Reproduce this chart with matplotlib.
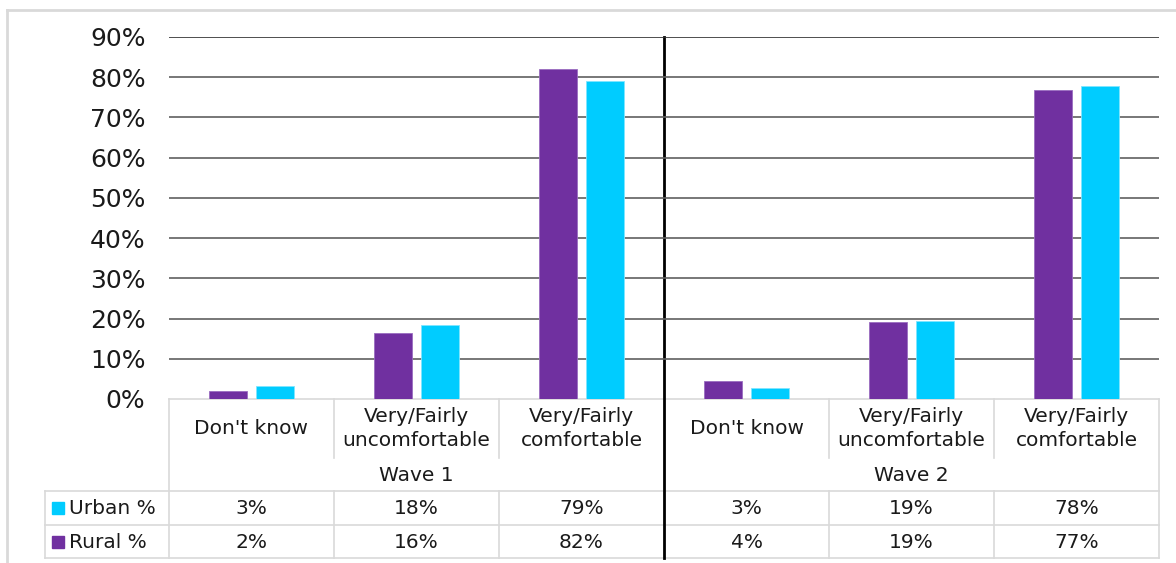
import matplotlib.pyplot as plt

# data
waves = ['Wave 1', 'Wave 2']
categories = ["Don't know", 'Very/Fairly\nuncomfortable', 'Very/Fairly\ncomfortable']
rural = [2.0, 16.4, 82.0, 4.5, 19.2, 76.9]
urban = [3.2, 18.4, 79.0, 2.7, 19.4, 77.9]
rural_lbl = ['2%', '16%', '82%', '4%', '19%', '77%']
urban_lbl = ['3%', '18%', '79%', '3%', '19%', '78%']

purple = '#7030A0'
cyan = '#00CCFF'
grid_c = '#606060'
tbl_c = '#d9d9d9'

W, H = 1176, 563
fig = plt.figure(figsize=(W / 100, H / 100), dpi=100)

# plot area in pixel coords
x0, x1, y_top, y_zero = 169, 1159, 37, 399
ax = fig.add_axes([x0 / W, 1 - y_zero / H, (x1 - x0) / W, (y_zero - y_top) / H])
n = len(rural)
xs = list(range(n))
bw = 0.23
ax.bar([x - 0.145 for x in xs], rural, width=bw, color=purple, edgecolor='#9a6cc0', linewidth=0.6, zorder=3)
ax.bar([x + 0.145 for x in xs], urban, width=bw, color=cyan, edgecolor='#7fe5ff', linewidth=0.6, zorder=3)
ax.set_xlim(-0.5, n - 0.5)
ax.set_ylim(0, 90)
ax.set_yticks(range(0, 91, 10))
ax.set_yticklabels([f'{v}%' for v in range(0, 91, 10)], fontsize=18, color='#1a1a1a')
ax.tick_params(axis='y', length=0, pad=17)
ax.set_xticks([])
for v in range(10, 91, 10):
    ax.axhline(v, color=grid_c if v < 90 else '#303030', lw=1.2, zorder=1)
for s in ax.spines.values():
    s.set_visible(False)
ax.patch.set_alpha(0)

# overlay for table, pixel coords
ov = fig.add_axes([0, 0, 1, 1], zorder=-1)
ov.set_xlim(0, W)
ov.set_ylim(H, 0)
ov.axis('off')

cw = (x1 - x0) / n
r_cat, r_wave, r_urb, r_rur, r_bot = 399, 458, 491, 525, 558
tx = 45

# outer border
ov.plot([7, 7], [10, H], color=tbl_c, lw=2)
ov.plot([7, W], [10, 10], color=tbl_c, lw=2)

# table lines
ov.plot([x0, x1], [r_cat, r_cat], color=tbl_c, lw=1.2)
for y in (r_urb, r_rur, r_bot):
    ov.plot([tx, x1], [y, y], color=tbl_c, lw=1.2)
ov.plot([tx, tx], [r_urb, r_bot], color=tbl_c, lw=1.2)
ov.plot([x0, x0], [r_cat, r_bot], color=tbl_c, lw=1.2)
ov.plot([x1, x1], [r_cat, r_bot], color=tbl_c, lw=1.2)
for i in range(1, n):
    if i == 3:
        continue
    xc = x0 + i * cw
    ov.plot([xc, xc], [r_cat, r_wave], color=tbl_c, lw=1.2)
    ov.plot([xc, xc], [r_urb, r_bot], color=tbl_c, lw=1.2)

# wave divider
xm = x0 + 3 * cw
ov.plot([xm, xm], [y_top, r_bot], color='black', lw=2)

fs = 14.5
tcol = '#1a1a1a'
for i in range(n):
    xc = x0 + (i + 0.5) * cw
    ov.text(xc, (r_cat + r_wave) / 2, categories[i % 3], ha='center', va='center',
            fontsize=fs, color=tcol, linespacing=1.3)
    ov.text(xc, (r_urb + r_rur) / 2 + 1, urban_lbl[i], ha='center', va='center', fontsize=fs, color=tcol)
    ov.text(xc, (r_rur + r_bot) / 2 + 1, rural_lbl[i], ha='center', va='center', fontsize=fs, color=tcol)
for j, w in enumerate(waves):
    xc = x0 + (j * 3 + 1.5) * cw
    ov.text(xc, (r_wave + r_urb) / 2 + 1, w, ha='center', va='center', fontsize=fs, color=tcol)

# legend keys in table
for (yy, col, name) in [((r_urb + r_rur) / 2, cyan, 'Urban %'), ((r_rur + r_bot) / 2, purple, 'Rural %')]:
    ov.add_patch(plt.Rectangle((52, yy - 6), 12, 12, color=col))
    ov.text(69, yy + 1, name, ha='left', va='center', fontsize=fs, color=tcol)

fig.savefig('out.png', dpi=100)
